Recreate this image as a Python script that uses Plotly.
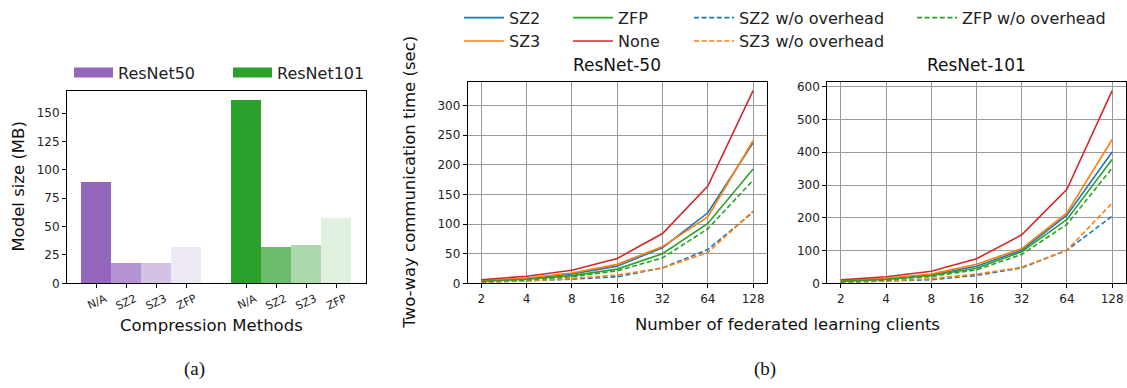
import plotly.graph_objects as go

W, H = 1127, 388

# ---------------- data ----------------
methods = ["N/A", "SZ2", "SZ3", "ZFP"]
models = ["ResNet50", "ResNet101"]
size_resnet50 = [90, 18, 18, 32]
size_resnet101 = [162, 32, 34, 58]
bar_alphas = [1.0, 0.7, 0.4, 0.15]

clients = [2, 4, 8, 16, 32, 64, 128]
client_labels = ["2", "4", "8", "16", "32", "64", "128"]

r50_sz2 = [4, 8, 16, 29, 60, 119, 237]
r50_sz3 = [4, 9, 17.5, 32, 62, 112, 241]
r50_zfp = [3, 7, 13, 24, 50, 101, 193]
r50_none = [6, 12, 22, 42, 84, 164, 325]
r50_sz2_wo = [2, 4, 7, 11, 26, 57, 120]
r50_sz3_wo = [2, 4, 8, 14, 26, 52, 122]
r50_zfp_wo = [3, 6, 11, 21, 43, 92, 174]

r101_sz2 = [7, 13, 26, 52, 101, 208, 401]
r101_sz3 = [8, 15, 28, 58, 106, 215, 439]
r101_zfp = [6, 12, 24, 46, 96, 195, 378]
r101_none = [11, 20, 37, 75, 148, 287, 588]
r101_sz2_wo = [3, 6, 11, 24, 47, 101, 205]
r101_sz3_wo = [3, 7, 14, 28, 49, 101, 245]
r101_zfp_wo = [5, 10, 21, 41, 88, 180, 352]

series_names = ["SZ2", "SZ3", "ZFP", "None",
                "SZ2 w/o overhead", "SZ3 w/o overhead", "ZFP w/o overhead"]
# ---------------- styles ----------------
BLUE, ORANGE, GREEN, RED, PURPLE = "#1f77b4", "#ff7f0e", "#2ca02c", "#d62728", "#9467bd"
series_colors = [BLUE, ORANGE, GREEN, RED, BLUE, ORANGE, GREEN]
series_dash = ["solid"] * 4 + ["5px,2.6px"] * 3
FONT = "DejaVu Sans"


def px_x(p):
    return p / W


def px_y(p):
    return 1 - p / H


def rgba(hexc, a):
    h = hexc.lstrip("#")
    r, g, b = int(h[0:2], 16), int(h[2:4], 16), int(h[4:6], 16)
    return f"rgba({r},{g},{b},{a})"


fig = go.Figure()

# ---------------- bar chart (a) ----------------
model_sizes = [size_resnet50, size_resnet101]
model_colors = [PURPLE, GREEN]
tickvals_a, ticktext_a = [], []
for gi, (name, vals, col) in enumerate(zip(models, model_sizes, model_colors)):
    xs = [gi * (len(methods) + 1) + i for i in range(len(methods))]
    tickvals_a += xs
    ticktext_a += methods
    fig.add_trace(go.Bar(
        x=xs, y=vals, width=1.0, name=name, showlegend=False,
        marker=dict(color=[rgba(col, a) for a in bar_alphas], line=dict(width=0)),
        xaxis="x", yaxis="y"))
    fig.add_trace(go.Scatter(
        x=[None], y=[None], mode="lines", name=name,
        line=dict(color=col, width=12), legend=f"legend{8 + gi}",
        xaxis="x", yaxis="y"))

# ---------------- line charts (b) ----------------
r50 = [r50_sz2, r50_sz3, r50_zfp, r50_none, r50_sz2_wo, r50_sz3_wo, r50_zfp_wo]
r101 = [r101_sz2, r101_sz3, r101_zfp, r101_none, r101_sz2_wo, r101_sz3_wo, r101_zfp_wo]
legend_ids = ["legend", "legend2", "legend3", "legend4", "legend5", "legend6", "legend7"]
for k, name in enumerate(series_names):
    for ax, data in (("2", r50), ("3", r101)):
        fig.add_trace(go.Scatter(
            x=clients, y=data[k], mode="lines", name=name,
            line=dict(color=series_colors[k], width=1.6, dash=series_dash[k]),
            showlegend=(ax == "2"), legend=legend_ids[k],
            xaxis="x" + ax, yaxis="y" + ax))

# ---------------- axes ----------------
axis_common = dict(showline=True, linecolor="black", linewidth=1, mirror=True,
                   ticks="outside", ticklen=4, tickcolor="black",
                   tickfont=dict(family=FONT, size=12, color="#222"), zeroline=False)
y_dom = [px_y(288), px_y(90.7)]
y_dom_b = [px_y(288), px_y(81.7)]
GRID = "#9a9a9a"

fig.update_layout(
    xaxis=dict(domain=[px_x(67), px_x(366)], range=[-0.97, 9.0],
               tickvals=tickvals_a, ticktext=ticktext_a, tickangle=-25,
               ticklabelshift=9, showgrid=False, anchor="y",
               **{**axis_common, "tickfont": dict(family=FONT, size=11, color="#222")}),
    yaxis=dict(domain=y_dom, range=[0, 170], tickvals=[0, 25, 50, 75, 100, 125, 150],
               showgrid=False, anchor="x", **axis_common),
    xaxis2=dict(domain=[px_x(467.7), px_x(766.7)], type="log", range=[0.2107, 2.1975],
                tickvals=clients, ticktext=client_labels, showgrid=True,
                gridcolor=GRID, gridwidth=1, anchor="y2", **axis_common),
    yaxis2=dict(domain=y_dom_b, range=[0, 340], tickvals=[0, 50, 100, 150, 200, 250, 300],
                showgrid=True, gridcolor=GRID, gridwidth=1, anchor="x2", **axis_common),
    xaxis3=dict(domain=[px_x(827.3), px_x(1125.7)], type="log", range=[0.2107, 2.1975],
                tickvals=clients, ticktext=client_labels, showgrid=True,
                gridcolor=GRID, gridwidth=1, anchor="y3", **axis_common),
    yaxis3=dict(domain=y_dom_b, range=[0, 615], tickvals=[0, 100, 200, 300, 400, 500, 600],
                showgrid=True, gridcolor=GRID, gridwidth=1, anchor="x3", **axis_common),
)

# ---------------- legends ----------------
leg_font = dict(family=FONT, size=16, color="#222")
leg_pos = [(464, 16.7), (464, 40.7), (573, 16.7), (573, 40.7),
           (694, 16.7), (694, 40.7), (917, 16.7)]
LEG_OFF = 18
leg_layout = {}
for lid, (lx, ly) in zip(legend_ids, leg_pos):
    leg_layout[lid] = dict(x=px_x(lx - 5), y=px_y(ly - LEG_OFF), xanchor="left", yanchor="top",
                           font=leg_font, bgcolor="rgba(0,0,0,0)", borderwidth=0,
                           itemwidth=40)
for lid, lx in (("legend8", 74), ("legend9", 233)):
    leg_layout[lid] = dict(x=px_x(lx - 5), y=px_y(73 - LEG_OFF), xanchor="left", yanchor="top",
                           font=leg_font, bgcolor="rgba(0,0,0,0)", borderwidth=0,
                           itemwidth=39)
fig.update_layout(**leg_layout)

# ---------------- titles / labels ----------------
lab_font = dict(family=FONT, size=16.5, color="#111")
annos = [
    dict(text="ResNet-50", x=px_x(617), y=px_y(64), font=dict(family=FONT, size=17, color="#111")),
    dict(text="ResNet-101", x=px_x(976.5), y=px_y(64), font=dict(family=FONT, size=17, color="#111")),
    dict(text="Compression Methods", x=px_x(211), y=px_y(331), font=lab_font),
    dict(text="Number of federated learning clients", x=px_x(787), y=px_y(330), font=lab_font),
    dict(text="Model size (MB)", x=px_x(19), y=px_y(189), textangle=-90, font=lab_font),
    dict(text="Two-way communication time (sec)", x=px_x(410), y=px_y(185), textangle=-90,
         font=lab_font),
    dict(text="(a)", x=px_x(194), y=px_y(376),
         font=dict(family="Liberation Serif", size=19, color="#111")),
    dict(text="(b)", x=px_x(765), y=px_y(376),
         font=dict(family="Liberation Serif", size=19, color="#111")),
]
for a in annos:
    a.update(xref="paper", yref="paper", showarrow=False, xanchor="center", yanchor="middle")

fig.update_layout(
    annotations=annos,
    width=W, height=H, margin=dict(l=0, r=0, t=0, b=0),
    paper_bgcolor="white", plot_bgcolor="white",
    font=dict(family=FONT, color="#222"),
    bargap=0,
)

fig.write_html("out.html")
